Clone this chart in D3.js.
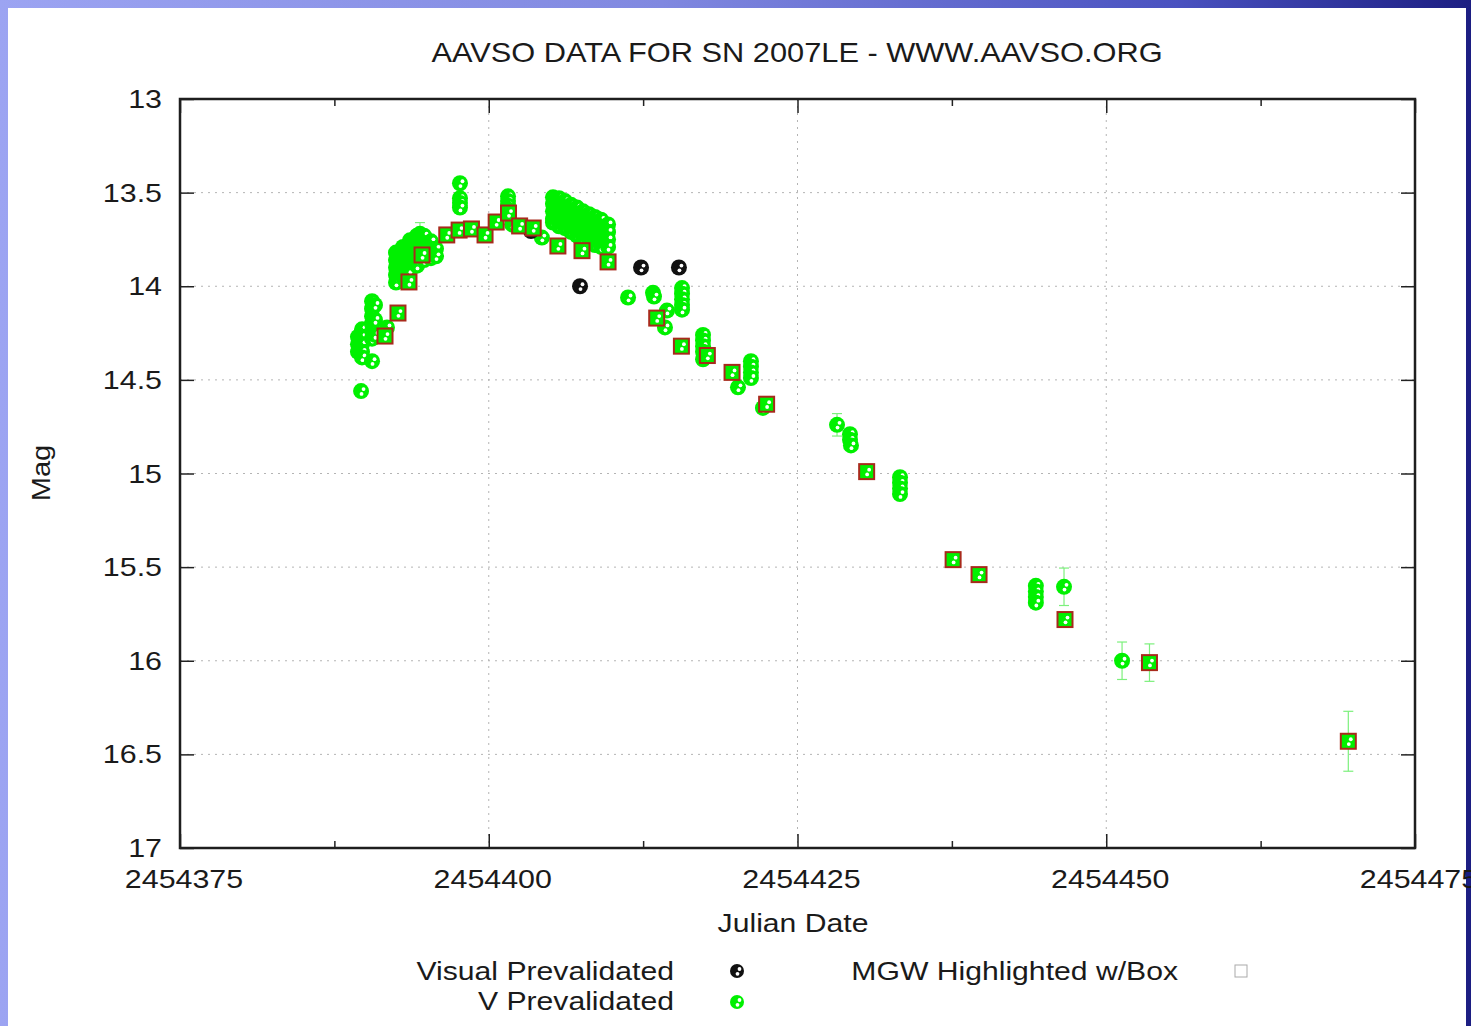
<!DOCTYPE html>
<html>
<head>
<meta charset="utf-8">
<script src="https://cdn.jsdelivr.net/npm/d3@7"></script>
<style>
  html, body { margin: 0; padding: 0; background: #fff; }
  svg { display: block; }
  text { font-family: "Liberation Sans", Arial, Helvetica, sans-serif; fill: #1a1a1a; }
</style>
</head>
<body>
<svg id="chart" width="1471" height="1026"></svg>
<script>
// ---- Axis ticks ----
const xTicks = [2454375, 2454400, 2454425, 2454450, 2454475];
const xMinorTicks = [2454387.5, 2454412.5, 2454437.5, 2454462.5];
const yTicks = [13, 13.5, 14, 14.5, 15, 15.5, 16, 16.5, 17];

// ---- V band observations (Julian Date, magnitude) ----
const vJD = [
  2454389.66,
  2454389.41, 2454389.41, 2454389.41,
  2454389.74, 2454389.74, 2454389.74, 2454389.74, 2454389.74,
  2454390.55, 2454390.55, 2454390.55, 2454390.55, 2454390.55, 2454390.55, 2454390.55,
  2454390.79, 2454390.79, 2454390.79, 2454391.76,
  2454392.49, 2454392.49, 2454392.49, 2454392.49, 2454392.49,
  2454393.06, 2454393.06, 2454393.06, 2454393.06, 2454393.06,
  2454393.62, 2454393.62, 2454393.62, 2454393.62, 2454393.62,
  2454394.19, 2454394.19, 2454394.19, 2454394.19, 2454394.19,
  2454394.43,
  2454394.76, 2454394.76, 2454394.76, 2454394.76,
  2454395.32, 2454395.32, 2454395.32,
  2454395.73, 2454395.73,
  2454397.67, 2454397.67, 2454397.67, 2454397.67,
  2454401.56, 2454401.56, 2454401.56, 2454401.56, 2454401.90,
  2454404.30,
  2454405.20, 2454405.20, 2454405.20, 2454405.20, 2454405.20,
  2454405.69, 2454405.69, 2454405.69, 2454405.69, 2454405.69,
  2454406.17, 2454406.17, 2454406.17, 2454406.17, 2454406.17,
  2454406.66, 2454406.66, 2454406.66, 2454406.66, 2454406.66,
  2454407.15, 2454407.15, 2454407.15, 2454407.15, 2454407.15,
  2454407.63, 2454407.63, 2454407.63, 2454407.63, 2454407.63,
  2454408.12, 2454408.12, 2454408.12, 2454408.12, 2454408.12,
  2454408.60, 2454408.60, 2454408.60, 2454408.60, 2454408.60,
  2454409.09, 2454409.09, 2454409.09, 2454409.09, 2454409.09,
  2454409.66, 2454409.66, 2454409.66, 2454409.66,
  2454411.28, 2454413.30, 2454413.38, 2454414.43, 2454414.27,
  2454415.65, 2454415.65, 2454415.65, 2454415.65, 2454415.65,
  2454417.35, 2454417.35, 2454417.35, 2454417.35, 2454417.35,
  2454420.18,
  2454421.23, 2454421.23, 2454421.23, 2454421.23,
  2454422.20,
  2454428.20, 2454429.25, 2454429.25, 2454429.33,
  2454433.30, 2454433.30, 2454433.30, 2454433.30,
  2454444.30, 2454444.30, 2454444.30, 2454444.30,
  2454446.58, 2454451.28
];
const vMag = [
  14.56,
  14.27, 14.31, 14.35,
  14.23, 14.27, 14.31, 14.35, 14.38,
  14.08, 14.12, 14.16, 14.20, 14.24, 14.28, 14.40,
  14.10, 14.18, 14.26, 14.22,
  13.82, 13.86, 13.90, 13.94, 13.98,
  13.79, 13.83, 13.87, 13.91, 13.95,
  13.755, 13.795, 13.835, 13.875, 13.91,
  13.73, 13.77, 13.81, 13.85, 13.89,
  13.72,
  13.73, 13.77, 13.81, 13.86,
  13.76, 13.80, 13.85,
  13.80, 13.84,
  13.45, 13.53, 13.555, 13.58,
  13.52, 13.545, 13.57, 13.59, 13.67,
  13.74,
  13.525, 13.56, 13.60, 13.64, 13.66,
  13.53, 13.57, 13.61, 13.65, 13.68,
  13.545, 13.585, 13.625, 13.665, 13.69,
  13.565, 13.605, 13.645, 13.685, 13.71,
  13.58, 13.62, 13.66, 13.70, 13.73,
  13.60, 13.64, 13.68, 13.72, 13.75,
  13.615, 13.655, 13.695, 13.735, 13.77,
  13.63, 13.67, 13.71, 13.75, 13.78,
  13.645, 13.685, 13.725, 13.765, 13.79,
  13.67, 13.71, 13.75, 13.79,
  14.06, 14.035, 14.055, 14.13, 14.22,
  14.01, 14.04, 14.07, 14.10, 14.125,
  14.26, 14.29, 14.32, 14.35, 14.39,
  14.54,
  14.40, 14.43, 14.46, 14.49,
  14.65,
  14.74, 14.79, 14.82, 14.85,
  15.02, 15.05, 15.08, 15.11,
  15.60, 15.63, 15.66, 15.69,
  15.605, 16.00
];

// ---- Visual observations ----
const visJD  = [2454403.42, 2454407.39, 2454412.33, 2454415.40];
const visMag = [13.705, 14.00, 13.90, 13.90];

// ---- MGW observations, highlighted with a box ----
const boxJD = [
  2454391.60, 2454392.65, 2454393.54, 2454394.60, 2454396.60, 2454397.60, 2454398.60,
  2454399.70, 2454400.60, 2454401.60, 2454402.50, 2454403.60, 2454405.60, 2454407.55,
  2454409.66, 2454413.60, 2454415.60, 2454417.70, 2454419.70, 2454422.50, 2454430.60,
  2454437.60, 2454439.70, 2454446.66, 2454453.50, 2454469.60
];
const boxMag = [
  14.266, 14.143, 13.977, 13.833, 13.726, 13.700, 13.694,
  13.726, 13.657, 13.609, 13.678, 13.689, 13.785, 13.810,
  13.870, 14.170, 14.320, 14.370, 14.460, 14.630, 14.990,
  15.460, 15.540, 15.780, 16.010, 16.430
];

// ---- Uncertainties shown as error bars ----
const errJD   = [2454394.43, 2454428.20, 2454446.58, 2454451.28, 2454453.50, 2454469.60];
const errMag  = [13.72, 14.74, 15.605, 16.00, 16.01, 16.43];
const errSize = [0.06, 0.06, 0.10, 0.10, 0.10, 0.16];

// ---- Layout ----
const W = 1471, H = 1026;
const plot = { left: 180, right: 1415, top: 99, bottom: 848 };
const GREEN = "#00f000";
const BOX_RED = "#a82a1c";
const R = 8;

const svg = d3.select("#chart");

// Slide-style backdrop with a white panel
const defs = svg.append("defs");
const grad = defs.append("linearGradient").attr("id", "frame").attr("x1", "0").attr("x2", "1").attr("y1", "0").attr("y2", "0");
grad.append("stop").attr("offset", "0%").attr("stop-color", "#9ca4f2");
grad.append("stop").attr("offset", "45%").attr("stop-color", "#8088e0");
grad.append("stop").attr("offset", "80%").attr("stop-color", "#4a52c0");
grad.append("stop").attr("offset", "100%").attr("stop-color", "#1c1e82");
svg.append("rect").attr("width", W).attr("height", H).attr("fill", "url(#frame)");
svg.append("rect").attr("x", 8).attr("y", 8).attr("width", 1458).attr("height", H - 8).attr("fill", "#fff");

const x = d3.scaleLinear().domain([2454375, 2454475]).range([plot.left, plot.right]);
const y = d3.scaleLinear().domain([13, 17]).range([plot.top, plot.bottom]);

// Text helper: glyphs are stretched horizontally to the plotting font's width
function label(g, px, py, str, size, anchor, sx) {
  return g.append("text")
    .attr("transform", `translate(${px},${py}) scale(${sx},1)`)
    .attr("text-anchor", anchor)
    .attr("font-size", size)
    .text(str);
}

// Grid
const grid = svg.append("g").attr("stroke", "#b4b4b4").attr("stroke-width", 1).attr("stroke-dasharray", "2,5");
grid.selectAll("line.gy").data(yTicks.slice(1, -1)).join("line")
  .attr("x1", plot.left).attr("x2", plot.right).attr("y1", d => y(d)).attr("y2", d => y(d));
grid.selectAll("line.gx").data(xTicks.slice(1, -1)).join("line")
  .attr("y1", plot.top).attr("y2", plot.bottom).attr("x1", d => x(d)).attr("x2", d => x(d));

// Axes with inward ticks
function styleAxis(g) {
  g.select(".domain").remove();
  g.selectAll(".tick line").attr("stroke", "#222").attr("stroke-width", 1.5);
  g.selectAll(".tick text").remove();
}
svg.append("g").attr("transform", `translate(0,${plot.bottom})`)
  .call(d3.axisBottom(x).tickValues(xTicks).tickSize(-14)).call(styleAxis);
svg.append("g").attr("transform", `translate(0,${plot.bottom})`)
  .call(d3.axisBottom(x).tickValues(xMinorTicks).tickSize(-7)).call(styleAxis);
svg.append("g").attr("transform", `translate(0,${plot.top})`)
  .call(d3.axisTop(x).tickValues(xTicks).tickSize(-14)).call(styleAxis);
svg.append("g").attr("transform", `translate(0,${plot.top})`)
  .call(d3.axisTop(x).tickValues(xMinorTicks).tickSize(-7)).call(styleAxis);
svg.append("g").attr("transform", `translate(${plot.left},0)`)
  .call(d3.axisLeft(y).tickValues(yTicks).tickSize(-14)).call(styleAxis);
svg.append("g").attr("transform", `translate(${plot.right},0)`)
  .call(d3.axisRight(y).tickValues(yTicks).tickSize(-14)).call(styleAxis);

// Frame
svg.append("rect")
  .attr("x", plot.left).attr("y", plot.top)
  .attr("width", plot.right - plot.left).attr("height", plot.bottom - plot.top)
  .attr("fill", "none").attr("stroke", "#1e1e1e").attr("stroke-width", 2.5);

// Tick labels (the last one runs under the right-hand border, as on the slide)
const labels = svg.append("g");
yTicks.forEach(t => label(labels, 162, y(t) + 9, d3.format("")(t), 26, "end", 1.17));
xTicks.forEach(t => label(labels, x(t) + 4, 888, d3.format("d")(t), 26, "middle", 1.17));

// Titles
label(svg, 797, 62, "AAVSO DATA FOR SN 2007LE - WWW.AAVSO.ORG", 27, "middle", 1.14);
label(svg, 793, 932, "Julian Date", 26, "middle", 1.16);
svg.append("text")
  .attr("transform", "translate(50,473) rotate(-90) scale(1.12,1)")
  .attr("text-anchor", "middle").attr("font-size", 26).text("Mag");

// Marker: filled disc with two white specks
function specks(g, cx, cy) {
  g.append("circle").attr("cx", cx + 2.5).attr("cy", cy - 2).attr("r", 1.9).attr("fill", "#fff");
  g.append("circle").attr("cx", cx + 0.5).attr("cy", cy + 2.8).attr("r", 1.9).attr("fill", "#fff");
}
function marker(g, cx, cy, fill, r) {
  g.append("circle").attr("cx", cx).attr("cy", cy).attr("r", r).attr("fill", fill);
  specks(g, cx, cy);
}

// Error bars
const eb = svg.append("g").attr("stroke", "#7cf07c").attr("stroke-width", 1.2).attr("fill", "none");
errJD.forEach((j, i) => {
  const cx = x(j), y1 = y(errMag[i] - errSize[i]), y2 = y(errMag[i] + errSize[i]);
  eb.append("line").attr("x1", cx).attr("x2", cx).attr("y1", y1).attr("y2", y2);
  eb.append("line").attr("x1", cx - 5).attr("x2", cx + 5).attr("y1", y1).attr("y2", y1);
  eb.append("line").attr("x1", cx - 5).attr("x2", cx + 5).attr("y1", y2).attr("y2", y2);
});

// V observations
const vg = svg.append("g");
vJD.forEach((j, i) => marker(vg, x(j), y(vMag[i]), GREEN, R));

// Visual observations
const visg = svg.append("g");
visJD.forEach((j, i) => marker(visg, x(j), y(visMag[i]), "#111", R));

// Boxed observations
const bg = svg.append("g");
boxJD.forEach((j, i) => {
  const cx = x(j), cy = y(boxMag[i]);
  bg.append("rect").attr("x", cx - 7.5).attr("y", cy - 7.5).attr("width", 15).attr("height", 15)
    .attr("fill", GREEN).attr("stroke", BOX_RED).attr("stroke-width", 2);
  specks(bg, cx, cy);
});

// Legend
const lg = svg.append("g");
label(lg, 674, 980, "Visual Prevalidated", 26, "end", 1.16);
label(lg, 674, 1010, "V Prevalidated", 26, "end", 1.16);
label(lg, 1178, 980, "MGW Highlighted w/Box", 26, "end", 1.16);
marker(lg, 737, 971, "#111", 7);
marker(lg, 737, 1002, GREEN, 7);
lg.append("rect").attr("x", 1235).attr("y", 965).attr("width", 12).attr("height", 12)
  .attr("fill", "none").attr("stroke", "#aaa").attr("stroke-width", 1);
</script>
</body>
</html>
